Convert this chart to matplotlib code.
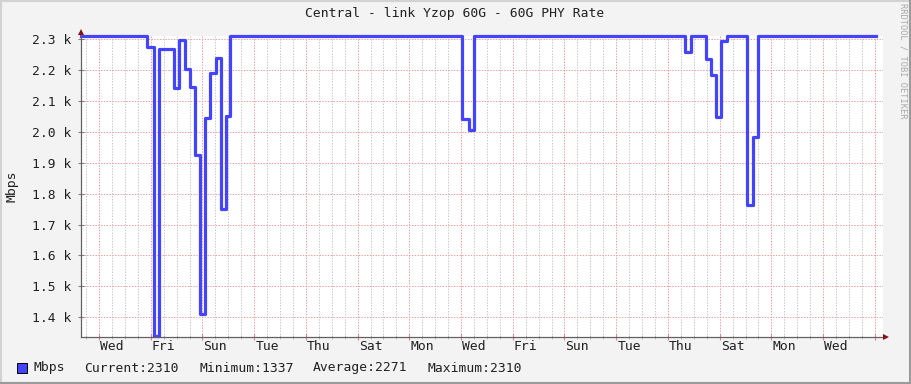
import numpy as np
import matplotlib
matplotlib.use('Agg')
import matplotlib.pyplot as plt
from matplotlib.lines import Line2D
from matplotlib.transforms import blended_transform_factory

# step start (days after Wed 00:00) and the rate held from there
t_start = [-0.70, 1.87, 2.11, 2.32, 2.91, 3.09, 3.33, 3.52, 3.72, 3.91, 4.10, 4.29, 4.54, 4.71, 4.91, 5.08,
           14.05, 14.31, 14.50, 22.66, 22.89, 23.47, 23.65, 23.86, 24.06, 24.28, 25.06, 25.29, 25.48]
rate = [2310, 2275, 1337, 2269, 2144, 2298, 2204, 2146, 1924, 1411, 2044, 2192, 2241, 1751, 2053, 2310,
        2042, 2005, 2310, 2260, 2310, 2237, 2183, 2047, 2295, 2310, 1763, 1985, 2310]
t_end = 30.05

day_labels = ['Wed', 'Fri', 'Sun', 'Tue', 'Thu', 'Sat', 'Mon', 'Wed', 'Fri', 'Sun', 'Tue', 'Thu', 'Sat', 'Mon', 'Wed']
y_ticks = [1400, 1500, 1600, 1700, 1800, 1900, 2000, 2100, 2200, 2300]
legend_items = ['Current:2310', 'Minimum:1337', 'Average:2271', 'Maximum:2310']

W, H = 911, 384
mono = 'DejaVu Sans Mono'
fs = 9.4

fig = plt.figure(figsize=(W / 100, H / 100), dpi=100, facecolor='#f3f3f3')
ax = fig.add_axes([81 / W, (H - 336.5) / H, 802 / W, 300.5 / H])
ax.set_facecolor('white')

x0, x1 = (81 - 99) / 25.86, (883 - 99) / 25.86
ax.set_xlim(x0, x1)
ax.set_ylim(1337, 2311)

# grid
dot = (0, (1.4, 1.4))
for d in np.arange(-0.5, x1, 0.5):
    if abs(d / 2 - round(d / 2)) < 1e-6:
        continue
    ax.axvline(d, color='#c9c9c9', lw=0.72, ls=dot, zorder=1)
for d in np.arange(0, x1, 2):
    ax.axvline(d, color='#eea0a0', lw=0.72, ls=dot, zorder=1)
for v in y_ticks:
    ax.axhline(v, color='#eea0a0', lw=0.72, ls=dot, zorder=1)

# data
xs = list(t_start) + [t_end]
ys = list(rate) + [rate[-1]]
ax.step(xs, ys, where='post', color='#4444ff', lw=2.3, clip_on=False, zorder=3)

# axes
for s in ['top', 'right']:
    ax.spines[s].set_visible(False)
for s in ['left', 'bottom']:
    ax.spines[s].set_color('#606060')
    ax.spines[s].set_linewidth(0.8)
ax.set_xticks(np.arange(0, x1, 2))
ax.set_xticks(np.arange(-0.5, x1, 0.5), minor=True)
ax.tick_params(axis='x', which='major', direction='inout', length=4, color='#e08080', labelbottom=False)
ax.tick_params(axis='x', which='minor', direction='inout', length=3, color='#b0b0b0')
ax.set_yticks(y_ticks)
ax.set_yticklabels([f'{v / 1000:.1f} k' for v in y_ticks], fontfamily=mono, fontsize=fs, color='#202020')
ax.tick_params(axis='y', direction='inout', length=4, color='#808080', pad=5)

tr = blended_transform_factory(ax.transData, fig.transFigure)
for i, lab in enumerate(day_labels):
    ax.text(0.5 + 2 * i, 1 - 346 / H, lab, transform=tr, ha='center', va='center',
            fontfamily=mono, fontsize=fs, color='#202020')

# axis extensions and arrows
fig.add_artist(Line2D([81 / W, 81 / W], [(H - 336.5) / H, (H - 31) / H], color='#606060', lw=0.8))
fig.add_artist(Line2D([81 / W, 886 / W], [(H - 336.5) / H, (H - 336.5) / H], color='#606060', lw=0.8))
fig.add_artist(Line2D([81 / W], [(H - 31.5) / H], marker='^', ms=4.5, color='#8b1010', mew=0))
fig.add_artist(Line2D([886 / W], [(H - 336.5) / H], marker='>', ms=4.5, color='#8b1010', mew=0))

# texts
fig.text(455 / W, 1 - 14 / H, 'Central - link Yzop 60G - 60G PHY Rate', ha='center', va='center',
         fontfamily=mono, fontsize=fs, color='#202020')
fig.text(12 / W, 1 - 186 / H, 'Mbps', rotation=90, ha='center', va='center',
         fontfamily=mono, fontsize=fs, color='#202020')
fig.text(903 / W, 1 - 61 / H, 'RRDTOOL / TOBI OETIKER', rotation=270, ha='center', va='center',
         fontfamily=mono, fontsize=6.2, color='#a8a8a8')

# legend
fig.patches.append(plt.Rectangle((17 / W, 1 - 373 / H), 10 / W, 10 / H, transform=fig.transFigure,
                                 facecolor='#4444ff', edgecolor='black', lw=0.7))
fig.text(34 / W, 1 - 368 / H, 'Mbps', ha='left', va='center', fontfamily=mono, fontsize=fs, color='#202020')
for xp, item in zip([84, 199, 313, 427], legend_items):
    fig.text(xp / W, 1 - 368 / H, item, ha='left', va='center', fontfamily=mono, fontsize=fs, color='#202020')

# frame
fig.add_artist(Line2D([0, 1], [1 - 1 / H, 1 - 1 / H], color='#d2d2d2', lw=1.5))
fig.add_artist(Line2D([1 / W, 1 / W], [0, 1], color='#d2d2d2', lw=1.5))
fig.add_artist(Line2D([0, 1], [1 / H, 1 / H], color='#9a9a9a', lw=1.5))
fig.add_artist(Line2D([1 - 1 / W, 1 - 1 / W], [0, 1], color='#9a9a9a', lw=1.5))

fig.savefig('out.png', dpi=100, facecolor=fig.get_facecolor())
